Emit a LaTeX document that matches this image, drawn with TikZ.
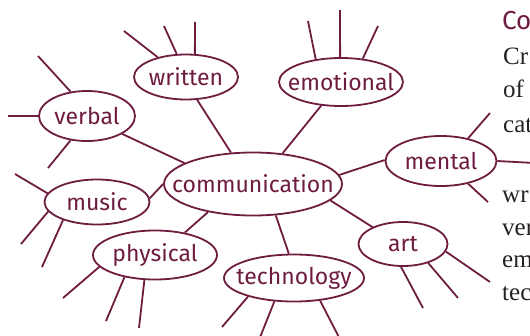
\documentclass[tikz,border=0pt]{standalone}
\usepackage{fontspec}
\setmainfont{Liberation Serif}
\newfontfamily\bubblefont{Fira Sans}
\usetikzlibrary{shapes.geometric}
\definecolor{mmaroon}{RGB}{110, 28, 64}
\definecolor{mgray}{RGB}{38, 34, 35}
\tikzset{bubble/.style n args = {3}{ellipse, draw=mmaroon, line width=1.8pt, inner sep=0pt,
                                    minimum width=#1, minimum height=#2,
                                    label={[text=mmaroon, inner sep=0pt,
                                            font=\bubblefont\fontsize{23}{23}\selectfont]center:#3}}}
\tikzset{spoke/.style = {draw=mmaroon, line width=1.8pt}}
\tikzset{side/.style = {anchor=base west, inner sep=0pt, text=mgray,
                        font=\fontsize{25}{25}\selectfont}}
\tikzset{head/.style = {anchor=base west, inner sep=0pt, text=mmaroon,
                        font=\bubblefont\fontsize{26}{26}\selectfont}}

\begin{document}
\begin{tikzpicture}[x=1pt, y=-1pt]
      \useasboundingbox (0, 0) rectangle (530, 335);
      \clip (0, 0) rectangle (530, 335);

      \node [bubble={178pt}{63pt}{communication}] (comm) at (253, 184) {};
      \node [bubble={104pt}{45pt}{written}] (written) at (186, 77) {};
      \node [bubble={96pt}{50pt}{verbal}] (verbal) at (87, 116) {};
      \node [bubble={124pt}{48pt}{emotional}] (emotional) at (341, 82) {};
      \node [bubble={111pt}{50pt}{mental}] (mental) at (441, 161) {};
      \node [bubble={105pt}{45pt}{music}] (music) at (97, 202) {};
      \node [bubble={124pt}{49pt}{physical}] (physical) at (155, 255) {};
      \node [bubble={140pt}{47pt}{technology}] (technology) at (294, 278) {};
      \node [bubble={89pt}{44pt}{art}] (art) at (403, 244) {};

      \foreach \n/\a/\b in {written/296/125, verbal/333/163, emotional/230/46,
                            mental/179/6, music/4/180, physical/37/212,
                            technology/102/306, art/151/348} {
        \draw [spoke] (\n.\a) -- (comm.\b);
      }

      \coordinate (w1) at (124, 31);
      \coordinate (w2) at (164, 26);
      \coordinate (w3) at (195, 22);
      \coordinate (v1) at (38, 56);
      \coordinate (v2) at (8, 116);
      \coordinate (v3) at (48, 168);
      \coordinate (e1) at (308, 21);
      \coordinate (e2) at (340, 10);
      \coordinate (e3) at (378, 26);
      \coordinate (m1) at (490, 113);
      \coordinate (m2) at (534, 163);
      \coordinate (m3) at (488, 202);
      \coordinate (u1) at (15, 174);
      \coordinate (u2) at (21, 244);
      \coordinate (u3) at (42, 267);
      \coordinate (p1) at (63, 298);
      \coordinate (p2) at (106, 321);
      \coordinate (p3) at (139, 328);
      \coordinate (t1) at (222, 327);
      \coordinate (t2) at (257, 345);
      \coordinate (t3) at (343, 345);
      \coordinate (a1) at (423, 308);
      \coordinate (a2) at (458, 298);
      \coordinate (a3) at (490, 282);

      \foreach \n/\a/\c in {written/145/w1, written/112/w2, written/69/w3,
                            verbal/124/v1, verbal/180/v2, verbal/236/v3,
                            emotional/138/e1, emotional/92/e2, emotional/47/e3,
                            mental/40/m1, mental/0/m2, mental/320/m3,
                            music/170/u1, music/191/u2, music/208/u3,
                            physical/192/p1, physical/216/p2, physical/247/p3,
                            technology/202/t1, technology/230/t2, technology/319/t3,
                            art/265/a1, art/323/a2, art/350/a3} {
        \draw [spoke] (\n.\a) -- (\c);
      }

      \node [head] (co) at (502, 29) {Co};
      \node [side] (cr) at (503, 64) {Cr};
      \node [side] (of) at (503, 97) {of};
      \node [side] (cat) at (503, 132) {cat};
      \node [side] (wr) at (502, 202) {wr};
      \node [side] (ver) at (502, 235) {ver};
      \node [side] (em) at (502, 267) {em};
      \node [side] (tec) at (502, 300) {tec};
    \end{tikzpicture}
\end{document}
